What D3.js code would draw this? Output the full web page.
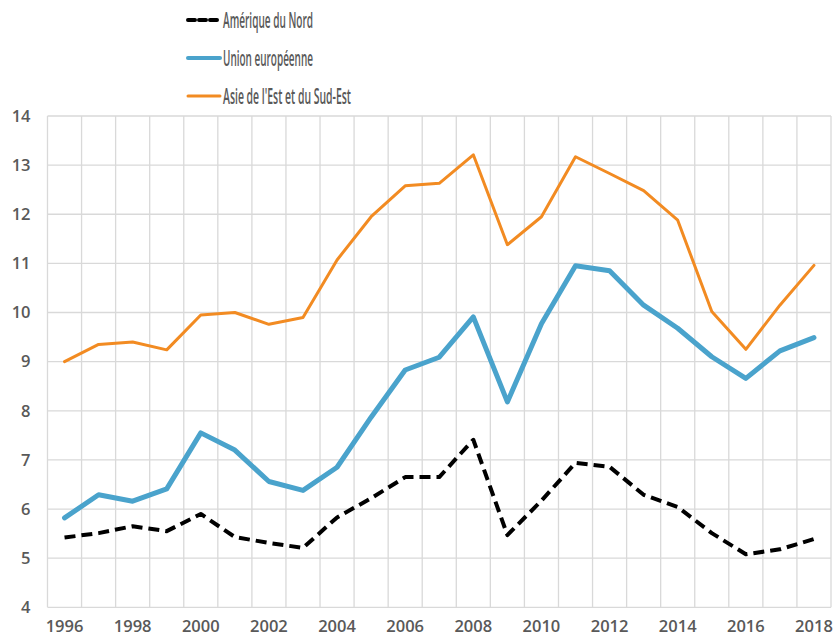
<!DOCTYPE html>
<html>
<head>
<meta charset="utf-8">
<script src="https://cdn.jsdelivr.net/npm/d3@7"></script>
<style>
  body { margin: 0; background: #fff; }
  svg { display: block; }
</style>
</head>
<body>
<div class="chart"></div>
<script>
const years = d3.range(1996, 2019);
const yTicks = [4, 5, 6, 7, 8, 9, 10, 11, 12, 13, 14];

const ameriqueNord = [5.42, 5.51, 5.65, 5.55, 5.9, 5.43, 5.31, 5.21, 5.83, 6.22, 6.65, 6.65,
  7.41, 5.47, 6.17, 6.94, 6.86, 6.29, 6.04, 5.51, 5.08, 5.18, 5.39];
const unionEuropeenne = [5.82, 6.29, 6.16, 6.41, 7.55, 7.2, 6.56, 6.38, 6.85, 7.87, 8.83, 9.09,
  9.91, 8.18, 9.77, 10.95, 10.85, 10.15, 9.68, 9.1, 8.66, 9.22, 9.49];
const asieEst = [9.0, 9.35, 9.4, 9.24, 9.95, 10.0, 9.76, 9.9, 11.07, 11.95, 12.58, 12.63,
  13.21, 11.38, 11.95, 13.17, 12.83, 12.48, 11.88, 10.02, 9.25, 10.15, 10.96];

const seriesNames = ['Amérique du Nord', 'Union européenne', "Asie de l'Est et du Sud-Est"];

const series = [
  {name: seriesNames[0], values: ameriqueNord, color: '#000000', width: 4, dash: '11,6', textW: 90},
  {name: seriesNames[1], values: unionEuropeenne, color: '#4aa3cc', width: 5, dash: null, textW: 90},
  {name: seriesNames[2], values: asieEst, color: '#f28b22', width: 3, dash: null, textW: 128}
];

const W = 835, H = 637;
const margin = {top: 116, right: 4, bottom: 30, left: 47.5};
const width = 831 - margin.left;
const height = 607.3 - margin.top;
const textColor = '#595959';
const gridColor = '#d9d9d9';

const svg = d3.select('.chart').append('svg')
    .attr('width', W)
    .attr('height', H);

const g = svg.append('g')
    .attr('transform', `translate(${margin.left},${margin.top})`);

const xScale = d3.scaleBand()
    .domain(years)
    .range([0, width]);

const yScale = d3.scaleLinear()
    .domain([4, 14])
    .range([height, 0]);

// grid
g.append('g').attr('class', 'grid-y')
  .selectAll('line')
  .data(yTicks)
  .join('line')
    .attr('x1', 0).attr('x2', width)
    .attr('y1', d => yScale(d)).attr('y2', d => yScale(d))
    .attr('stroke', gridColor).attr('stroke-width', 1.3);

g.append('g').attr('class', 'grid-x')
  .selectAll('line')
  .data(years.concat([2019]))
  .join('line')
    .attr('x1', d => d === 2019 ? width : xScale(d))
    .attr('x2', d => d === 2019 ? width : xScale(d))
    .attr('y1', 0).attr('y2', height)
    .attr('stroke', gridColor).attr('stroke-width', 1.3);

// axes
const xAxis = g.append('g')
    .attr('class', 'axis axis--x')
    .attr('transform', `translate(0,${height})`)
    .call(d3.axisBottom(xScale).tickValues(years.filter(y => y % 2 === 0)).tickSize(0).tickPadding(13));
xAxis.select('.domain').remove();

const yAxis = g.append('g')
    .attr('class', 'axis axis--y')
    .call(d3.axisLeft(yScale).tickValues(yTicks).tickSize(0).tickPadding(17));
yAxis.select('.domain').remove();

svg.selectAll('.axis text')
    .attr('fill', textColor)
    .style('font-family', '"Open Sans", sans-serif')
    .style('font-size', '16.5px')
    .style('font-weight', 600);
yAxis.selectAll('text').attr('dy', '0.32em');

// lines
const line = d3.line()
    .x((d, i) => xScale(years[i]) + xScale.bandwidth() / 2)
    .y(d => yScale(d));

g.append('g').attr('class', 'lines-g')
  .selectAll('path')
  .data(series.slice().reverse())
  .join('path')
    .attr('d', d => line(d.values))
    .attr('fill', 'none')
    .attr('stroke', d => d.color)
    .attr('stroke-width', d => d.width)
    .attr('stroke-dasharray', d => d.dash)
    .attr('stroke-linejoin', 'round')
    .attr('stroke-linecap', d => d.dash ? 'butt' : 'round');

// legend
const legend = svg.append('g').attr('class', 'legend')
    .attr('transform', 'translate(187,20)');

const item = legend.selectAll('g')
  .data(series)
  .join('g')
    .attr('transform', (d, i) => `translate(0,${i * 38})`);

item.append('line')
    .attr('x1', 1).attr('x2', 33)
    .attr('stroke', d => d.color)
    .attr('stroke-width', d => d.width === 3 ? 3 : 4)
    .attr('stroke-dasharray', d => d.dash ? '7,4' : null)
    .attr('stroke-linecap', 'round');

item.append('text')
    .attr('x', 36)
    .attr('dy', '0.36em')
    .attr('fill', textColor)
    .attr('textLength', d => d.textW)
    .attr('lengthAdjust', 'spacingAndGlyphs')
    .style('font-family', '"Open Sans", sans-serif')
    .style('font-size', '21px')
    .style('font-weight', 600)
    .text(d => d.name);
</script>
</body>
</html>
